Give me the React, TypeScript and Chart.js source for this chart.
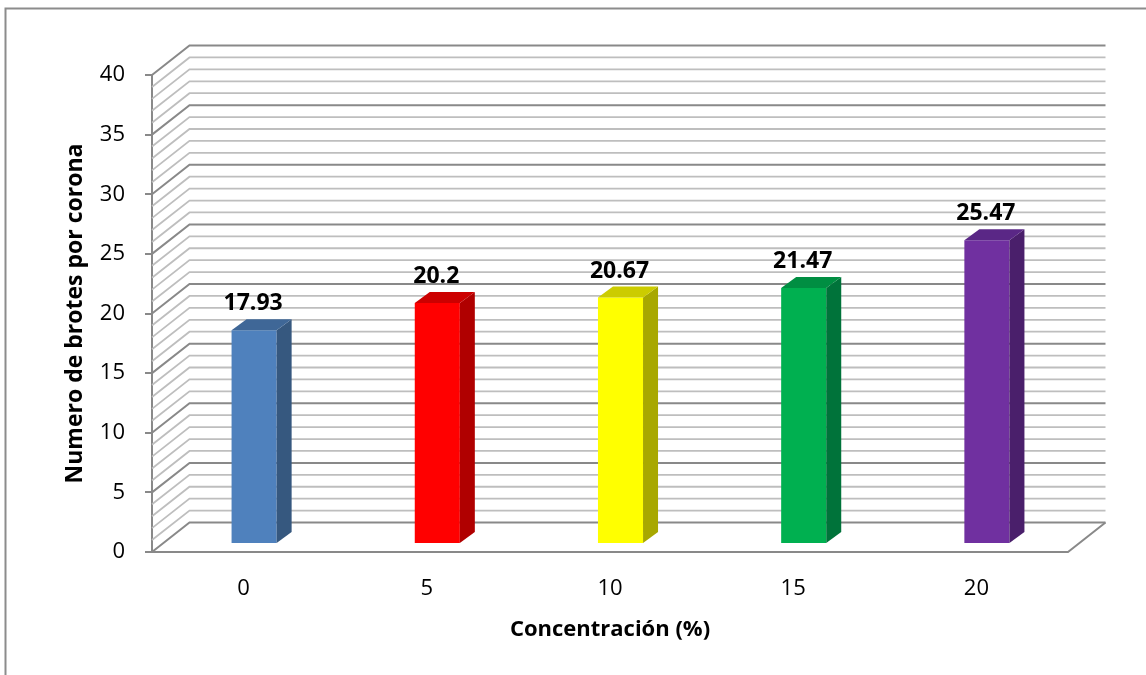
import React, { useEffect, useRef } from "react";
import { Chart, registerables } from "chart.js";

Chart.register(...registerables);

// Concentration levels (x axis) and mean shoots per crown
const categories = ["0", "5", "10", "15", "20"];
const brotes = [17.93, 20.2, 20.67, 21.47, 25.47];
const valueLabels = ["17.93", "20.2", "20.67", "21.47", "25.47"];

// Face colours of each 3D column: front, right side, top
const frontColors = ["#4F81BD", "#FF0000", "#FFFF00", "#00B050", "#7030A0"];
const sideColors = ["#36587F", "#B00000", "#A8A800", "#00733A", "#4A1F6B"];
const topColors = ["#3F6797", "#CC0000", "#CCCC00", "#008E42", "#5A2786"];

// Value axis
const yMin = 0;
const yMax = 40;
const yStep = 5;
const minorStep = 1;

const FONT = "'Open Sans', sans-serif";

// Offset of the back wall from the front plane
const WALL_DX = 37.5;
const WALL_DY = -29.5;
// Columns stand slightly behind the front plane and have their own depth
const BAR_DX = 10.5;
const BAR_DY = -8;
const BAR_SX = 15;
const BAR_SY = -11;

const MAJOR_LINE = "#898989";
const MINOR_LINE = "#BEBEBE";

const box3d = {
  id: "box3d",
  beforeDraw(chart: any) {
    const { ctx } = chart;
    ctx.save();
    ctx.strokeStyle = "#8C8C8C";
    ctx.lineWidth = 2;
    ctx.strokeRect(5.5, 8.5, 1200, 720);
    ctx.restore();
  },
  beforeDatasetsDraw(chart: any) {
    const { ctx, chartArea: a } = chart;
    const y = chart.scales.y;
    ctx.save();
    ctx.lineCap = "butt";
    for (let v = yMin; v <= yMax; v += minorStep) {
      const yf = y.getPixelForValue(v);
      const major = v % yStep === 0;
      ctx.strokeStyle = major ? MAJOR_LINE : MINOR_LINE;
      ctx.lineWidth = major ? 2 : 1.8;
      ctx.beginPath();
      ctx.moveTo(a.left, yf);
      ctx.lineTo(a.left + WALL_DX, yf + WALL_DY);
      ctx.lineTo(a.right + WALL_DX, yf + WALL_DY);
      ctx.stroke();
    }
    // floor: front edge and right edge
    const y0 = y.getPixelForValue(yMin);
    ctx.strokeStyle = MAJOR_LINE;
    ctx.lineWidth = 2;
    ctx.beginPath();
    ctx.moveTo(a.left, y0);
    ctx.lineTo(a.right, y0);
    ctx.lineTo(a.right + WALL_DX, y0 + WALL_DY);
    ctx.stroke();
    ctx.restore();

    // the front faces are drawn by Chart.js, pushed back into the box
    ctx.save();
    ctx.translate(BAR_DX, BAR_DY);
  },
  afterDatasetsDraw(chart: any) {
    const { ctx } = chart;
    ctx.restore();
    const meta = chart.getDatasetMeta(0);
    meta.data.forEach((el: any, i: number) => {
      const { x, y, base, width } = el.getProps(["x", "y", "base", "width"], true);
      const xl = x - width / 2 + BAR_DX;
      const xr = x + width / 2 + BAR_DX;
      const yt = y + BAR_DY;
      const yb = base + BAR_DY;
      ctx.save();
      // right side
      ctx.fillStyle = sideColors[i];
      ctx.beginPath();
      ctx.moveTo(xr, yt);
      ctx.lineTo(xr + BAR_SX, yt + BAR_SY);
      ctx.lineTo(xr + BAR_SX, yb + BAR_SY);
      ctx.lineTo(xr, yb);
      ctx.closePath();
      ctx.fill();
      // top
      ctx.fillStyle = topColors[i];
      ctx.beginPath();
      ctx.moveTo(xl, yt);
      ctx.lineTo(xr, yt);
      ctx.lineTo(xr + BAR_SX, yt + BAR_SY);
      ctx.lineTo(xl + BAR_SX, yt + BAR_SY);
      ctx.closePath();
      ctx.fill();
      // value label
      ctx.fillStyle = "#000000";
      ctx.font = `bold 23px ${FONT}`;
      ctx.textAlign = "center";
      ctx.textBaseline = "alphabetic";
      ctx.fillText(valueLabels[i], x + BAR_DX - 1, yt - 20);
      ctx.restore();
    });
  },
};

export default function App() {
  const canvasRef = useRef<HTMLCanvasElement | null>(null);

  useEffect(() => {
    const canvas = canvasRef.current;
    if (!canvas) return;
    const chart = new Chart(canvas, {
      type: "bar",
      data: {
        labels: categories,
        datasets: [
          {
            label: "Numero de brotes por corona",
            data: brotes,
            backgroundColor: frontColors,
            borderWidth: 0,
            barPercentage: 0.246,
            categoryPercentage: 1,
          },
        ],
      },
      options: {
        responsive: false,
        animation: false,
        devicePixelRatio: 1,
        layout: { padding: { left: 0, top: 75, right: 78, bottom: 23 } },
        plugins: {
          legend: { display: false },
          tooltip: { enabled: false },
        },
        scales: {
          x: {
            type: "category",
            grid: { display: false },
            border: { display: false },
            ticks: {
              color: "#000000",
              font: { family: FONT, size: 22 },
              padding: 16,
            },
            title: {
              display: true,
              text: "Concentración (%)",
              color: "#000000",
              font: { family: FONT, size: 22, weight: "bold" },
              padding: { top: 0, bottom: 8.8 },
            },
            afterFit(scale: any) {
              scale.height = 100;
            },
          },
          y: {
            min: yMin,
            max: yMax,
            grid: {
              display: true,
              drawOnChartArea: false,
              drawTicks: true,
              tickLength: 7,
              color: MAJOR_LINE,
              lineWidth: 2,
            },
            border: { display: true, color: MAJOR_LINE, width: 2 },
            ticks: {
              stepSize: yStep,
              color: "#000000",
              font: { family: FONT, size: 22 },
              padding: 20,
            },
            title: {
              display: true,
              text: "Numero de brotes por corona",
              color: "#000000",
              font: { family: FONT, size: 23, weight: "bold" },
              padding: { top: 61.2, bottom: 0 },
            },
            afterFit(scale: any) {
              scale.width = 152;
            },
          },
        },
      },
      plugins: [box3d],
    });
    return () => chart.destroy();
  }, []);

  return (
    <div style={{ position: "fixed", left: 0, top: 0, width: 1146, height: 675, background: "#ffffff" }}>
      <canvas ref={canvasRef} width={1146} height={675} />
    </div>
  );
}
